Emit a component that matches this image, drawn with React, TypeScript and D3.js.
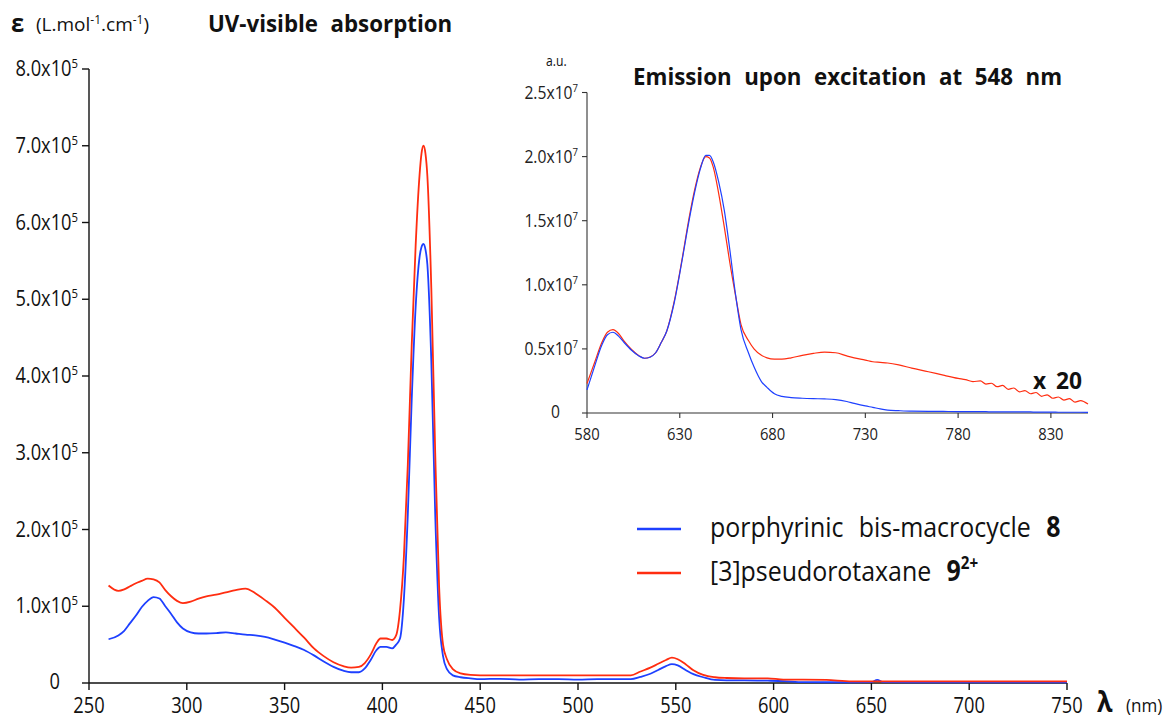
import React from "react";
import * as d3 from "d3";

// ---------- DATA ----------
// UV-visible absorption (epsilon in units of 1e5 L.mol-1.cm-1)
const absWavelength = [
  260, 265, 268, 271, 274, 277, 280, 283, 286, 289, 292, 295, 298, 302, 306, 310, 315, 320, 325, 330,
  335, 340, 345, 350, 355, 360, 365, 370, 375, 380, 384, 388, 391, 394, 397, 399, 402, 405, 407, 409,
  411, 413, 415, 417, 419, 420, 421, 422, 423, 425, 427, 429, 431, 433, 436, 440, 445, 450, 460, 470,
  480, 490, 500, 510, 520, 527, 532, 537, 541, 545, 548, 551, 555, 559, 564, 570, 576, 585, 597, 605,
  615, 627, 640, 650, 653, 656, 670, 700, 750,
];
const absBis = [
  0.57, 0.62, 0.68, 0.78, 0.88, 0.99, 1.07, 1.12, 1.1, 1.0, 0.9, 0.79, 0.71, 0.66, 0.645, 0.645, 0.65, 0.66, 0.645, 0.63,
  0.62, 0.6, 0.565, 0.525, 0.48, 0.43, 0.36, 0.28, 0.21, 0.16, 0.14, 0.14, 0.19, 0.3, 0.43, 0.47, 0.47, 0.45, 0.5, 0.58,
  1.1, 2.2, 3.7, 4.9, 5.55, 5.68, 5.72, 5.65, 5.45, 4.2, 2.2, 0.85, 0.35, 0.18, 0.1, 0.075, 0.06, 0.05, 0.055, 0.045,
  0.05, 0.05, 0.045, 0.05, 0.05, 0.05, 0.08, 0.12, 0.17, 0.22, 0.245, 0.23, 0.17, 0.115, 0.075, 0.04, 0.035, 0.035, 0.03, 0.025,
  0.012, 0.01, 0.01, 0.012, 0.04, 0.012, 0.01, 0.01, 0.01,
];
const absRotax = [
  1.27, 1.2, 1.22, 1.26, 1.3, 1.33, 1.36, 1.35, 1.31, 1.21, 1.13, 1.07, 1.04, 1.06, 1.1, 1.13, 1.15, 1.18, 1.21, 1.23,
  1.17, 1.08, 0.98, 0.85, 0.72, 0.59, 0.45, 0.35, 0.27, 0.22, 0.2, 0.21, 0.26, 0.37, 0.52, 0.58, 0.58, 0.56, 0.62, 0.95,
  1.65, 2.85, 4.41, 5.7, 6.62, 6.9, 7.0, 6.9, 6.6, 5.15, 3.0, 1.25, 0.5, 0.31, 0.18, 0.125, 0.105, 0.1, 0.1, 0.1,
  0.1, 0.1, 0.1, 0.1, 0.1, 0.1, 0.15, 0.2, 0.25, 0.3, 0.33, 0.31, 0.245, 0.165, 0.105, 0.075, 0.065, 0.06, 0.06, 0.045,
  0.045, 0.04, 0.02, 0.02, 0.02, 0.02, 0.02, 0.02, 0.02,
];

// Emission upon excitation at 548 nm (a.u., in units of 1e7)
const emWavelength = [
  580, 584, 588, 591, 594, 597, 600, 604, 608, 611, 614, 617, 620, 623, 627, 631, 635, 638, 641, 644,
  646, 648, 651, 654, 657, 660, 663, 667, 670, 674, 677, 681, 685, 690, 696, 702, 708, 714, 720, 724,
  730, 734, 738, 742, 748, 755, 764, 772, 780, 784, 788, 792, 795, 798, 801, 804, 807, 810, 813, 816,
  819, 822, 825, 828, 831, 834, 837, 840, 843, 846, 850,
];
const emBis = [
  0.18, 0.36, 0.53, 0.61, 0.63, 0.6, 0.55, 0.49, 0.445, 0.427, 0.435, 0.47, 0.55, 0.64, 0.86, 1.17, 1.5, 1.72, 1.9, 2.01,
  2.01, 1.96, 1.8, 1.58, 1.27, 0.93, 0.65, 0.47, 0.36, 0.245, 0.2, 0.15, 0.13, 0.12, 0.115, 0.112, 0.11, 0.105, 0.09, 0.075,
  0.055, 0.044, 0.032, 0.023, 0.018, 0.014, 0.013, 0.012, 0.011, 0.011, 0.01, 0.01, 0.01, 0.009, 0.009, 0.009, 0.009, 0.008, 0.008, 0.008,
  0.008, 0.007, 0.007, 0.007, 0.007, 0.006, 0.006, 0.006, 0.006, 0.006, 0.005,
];
const emRotax = [
  0.23, 0.39, 0.55, 0.63, 0.65, 0.62, 0.56, 0.495, 0.447, 0.427, 0.437, 0.47, 0.55, 0.64, 0.87, 1.18, 1.52, 1.74, 1.91, 2.0,
  1.99, 1.92, 1.71, 1.45, 1.17, 0.92, 0.69, 0.565, 0.5, 0.45, 0.43, 0.42, 0.42, 0.43, 0.45, 0.465, 0.475, 0.47, 0.445, 0.43,
  0.413, 0.4, 0.395, 0.39, 0.375, 0.35, 0.322, 0.295, 0.27, 0.26, 0.245, 0.25, 0.225, 0.232, 0.205, 0.215, 0.185, 0.195, 0.165, 0.175,
  0.15, 0.16, 0.13, 0.142, 0.115, 0.125, 0.1, 0.112, 0.085, 0.097, 0.07,
];

const absXTicks = [250, 300, 350, 400, 450, 500, 550, 600, 650, 700, 750];
const absYTicks = [0, 1, 2, 3, 4, 5, 6, 7, 8];
const emXTicks = [580, 630, 680, 730, 780, 830];
const emYTicks = [0, 0.5, 1, 1.5, 2, 2.5];

const seriesNames = ["porphyrinic bis-macrocycle", "[3]pseudorotaxane"];
const seriesIds = ["8", "9"];

// ---------- STYLE ----------
const BLUE = "#1e40ff";
const RED = "#ff2d10";
const FONT = "'Open Sans', 'Noto Sans', sans-serif";
const SX = 0.87;

type TProps = {
  x: number;
  y: number;
  size: number;
  anchor?: "start" | "middle" | "end";
  weight?: number;
  fill?: string;
  ws?: number;
  sx?: number;
  children?: React.ReactNode;
};

function T({ x, y, size, anchor = "start", weight = 400, fill = "#111", ws = 0, sx = SX, children }: TProps) {
  return (
    <text
      transform={`translate(${x},${y}) scale(${sx},1)`}
      fontSize={size}
      textAnchor={anchor}
      fontWeight={weight}
      fill={fill}
      fontFamily={FONT}
      style={{ wordSpacing: ws }}
    >
      {children}
    </text>
  );
}

export default function App() {
  const xMain = d3.scaleLinear().domain([250, 750]).range([89, 1067]);
  const yMain = d3.scaleLinear().domain([0, 8]).range([683, 69]);
  const xIn = d3.scaleLinear().domain([580, 850]).range([587, 1088]);
  const yIn = d3.scaleLinear().domain([0, 2.5]).range([413, 92.5]);

  const absLine = (vals: number[]) =>
    d3
      .line<number>()
      .x((_, i) => xMain(absWavelength[i]))
      .y((d) => yMain(d))
      .curve(d3.curveMonotoneX)(vals) || "";
  const emLine = (vals: number[]) =>
    d3
      .line<number>()
      .x((_, i) => xIn(emWavelength[i]))
      .y((d) => yIn(d))
      .curve(d3.curveMonotoneX)(vals) || "";

  const [x0, x1] = xMain.range();
  const [y0, y1] = yMain.range();
  const [ix0, ix1] = xIn.range();
  const [iy0, iy1] = yIn.range();

  return (
    <svg
      width={1168}
      height={720}
      style={{ position: "absolute", left: 0, top: 0, background: "#fff" }}
      fontFamily={FONT}
    >
      <rect x={0} y={0} width={1168} height={720} fill="#fff" />

      {/* ---------- main header ---------- */}
      <T x={11} y={32} size={25} weight={700} sx={0.95}>ε</T>
      <T x={36} y={31} size={19} sx={1.0}>
        (L.mol<tspan fontSize={12} dy={-7}>-1</tspan>
        <tspan dy={7}>.cm</tspan>
        <tspan fontSize={12} dy={-7}>-1</tspan>
        <tspan dy={7}>)</tspan>
      </T>
      <T x={208} y={32} size={23} weight={700} ws={7} sx={0.97}>UV-visible absorption</T>

      {/* ---------- main axes ---------- */}
      <g stroke="#111" strokeWidth={1.4} fill="none">
        <line x1={x0} x2={x1} y1={y0} y2={y0} />
        <line x1={x0} x2={x0} y1={y0} y2={y1} />
        {absXTicks.map((t) => (
          <line key={"xt" + t} x1={xMain(t)} x2={xMain(t)} y1={y0} y2={y0 + 7} />
        ))}
        {absYTicks.map((t) => (
          <line key={"yt" + t} x1={x0 - 7} x2={x0} y1={yMain(t)} y2={yMain(t)} />
        ))}
      </g>
      {absXTicks.map((t) => (
        <T key={"xl" + t} x={xMain(t)} y={713} size={21} anchor="middle">
          {String(t)}
        </T>
      ))}
      {absYTicks.map((t) =>
        t === 0 ? (
          <T key={"yl" + t} x={60} y={yMain(t) + 6} size={21} anchor="end">0</T>
        ) : (
          <T key={"yl" + t} x={78} y={yMain(t) + 7} size={21} anchor="end">
            {t.toFixed(1)}x10<tspan fontSize={13} dy={-8}>5</tspan>
          </T>
        )
      )}
      <T x={1097} y={712} size={28} weight={700} sx={0.9}>λ</T>
      <T x={1126} y={712} size={18} sx={0.95}>(nm)</T>

      {/* ---------- main curves ---------- */}
      <path d={absLine(absBis)} fill="none" stroke={BLUE} strokeWidth={1.8} />
      <path d={absLine(absRotax)} fill="none" stroke={RED} strokeWidth={1.8} />

      {/* ---------- legend ---------- */}
      <line x1={637} x2={681} y1={529} y2={529} stroke={BLUE} strokeWidth={2.5} />
      <T x={710} y={537} size={28} ws={10} sx={0.89}>
        {seriesNames[0]} <tspan fontWeight={700}>{seriesIds[0]}</tspan>
      </T>
      <line x1={637} x2={681} y1={573} y2={573} stroke={RED} strokeWidth={2.5} />
      <T x={710} y={581} size={28} ws={10} sx={0.89}>
        {seriesNames[1]} <tspan fontWeight={700}>{seriesIds[1]}</tspan>
        <tspan fontWeight={700} fontSize={17} dy={-12}>2+</tspan>
      </T>

      {/* ---------- inset ---------- */}
      <T x={546} y={66} size={14}>a.u.</T>
      <T x={633} y={85} size={23} weight={700} ws={7} sx={0.97}>Emission upon excitation at 548 nm</T>
      <g stroke="#333" strokeWidth={1.1} fill="none">
        <line x1={ix0} x2={ix1} y1={iy0} y2={iy0} />
        <line x1={ix0} x2={ix0} y1={iy0} y2={iy1} />
        {emXTicks.map((t) => (
          <line key={"ixt" + t} x1={xIn(t)} x2={xIn(t)} y1={iy0} y2={iy0 + 5} />
        ))}
        {emYTicks.map((t) => (
          <line key={"iyt" + t} x1={ix0 - 5} x2={ix0} y1={yIn(t)} y2={yIn(t)} />
        ))}
      </g>
      {emXTicks.map((t) => (
        <T key={"ixl" + t} x={xIn(t)} y={440} size={17} anchor="middle" fill="#222">
          {String(t)}
        </T>
      ))}
      {emYTicks.map((t) =>
        t === 0 ? (
          <T key={"iyl" + t} x={560} y={yIn(t) + 5} size={18} anchor="end" fill="#222">0</T>
        ) : (
          <T key={"iyl" + t} x={578} y={yIn(t) + 6} size={18} anchor="end" fill="#222">
            {t.toFixed(1)}x10<tspan fontSize={11} dy={-7}>7</tspan>
          </T>
        )
      )}
      <path d={emLine(emRotax)} fill="none" stroke={RED} strokeWidth={1.2} />
      <path d={emLine(emBis)} fill="none" stroke={BLUE} strokeWidth={1.2} />
      <T x={1033} y={389} size={24} weight={700} ws={4} sx={0.95}>x 20</T>
    </svg>
  );
}
